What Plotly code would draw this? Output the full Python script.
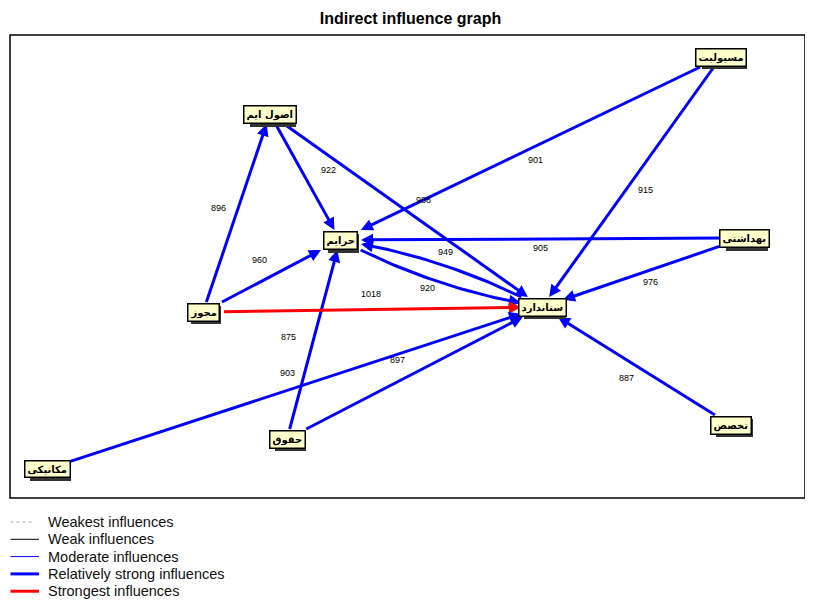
import numpy as np
import plotly.graph_objects as go

# nodes of the indirect influence map (position on the MICMAC plane)
node_names = ["اصول ایم", "حرایم", "مجوز", "ستاندارد", "مسیولیت", "بهداشتی", "تخصص", "حقوق", "مکانیکی"]
node_x = [270, 340, 203, 542, 721, 744, 731, 287, 47]
node_y = [114, 240, 312, 307, 57, 238, 425, 439, 469]

# edges: source -> target with indirect influence value
edge_src = ["مجوز", "اصول ایم", "اصول ایم", "مسیولیت", "مسیولیت", "بهداشتی", "بهداشتی",
            "ستاندارد", "حرایم", "مجوز", "مجوز", "حقوق", "مکانیکی", "حقوق", "تخصص"]
edge_dst = ["اصول ایم", "حرایم", "ستاندارد", "حرایم", "ستاندارد", "حرایم", "ستاندارد",
            "حرایم", "ستاندارد", "حرایم", "ستاندارد", "حرایم", "ستاندارد", "ستاندارد", "ستاندارد"]
edge_val = [896, 922, 988, 901, 915, 905, 976, 949, 920, 960, 1018, 875, 903, 897, 887]

legend_names = ["Weakest influences", "Weak influences", "Moderate influences",
                "Relatively strong influences", "Strongest influences"]

# style: where each value label sits relative to the edge midpoint (px)
lab_dx = [-18, 23, 17, 5, 14, -2, 7, 4, -14, -12, -2, -25, -7, -17, -10]
lab_dy = [-5, -7, -11, 11, 8, 9, 9, -22, 14, -16, -16, -3, -15, -13, 12]

styles = {
    "Weakest influences": dict(color="#aaaaaa", width=1, dash="dot"),
    "Weak influences": dict(color="black", width=1, dash="solid"),
    "Moderate influences": dict(color="#0000ff", width=1, dash="solid"),
    "Relatively strong influences": dict(color="#0000ff", width=3, dash="solid"),
    "Strongest influences": dict(color="#ff0000", width=3, dash="solid"),
}

pos = {n: (x, y) for n, x, y in zip(node_names, node_x, node_y)}
HW, HH = 21, 10
PLOT_W, PLOT_H = 795, 463


def box_exit(c, u):
    tx = HW / abs(u[0]) if abs(u[0]) > 1e-9 else 1e9
    ty = HH / abs(u[1]) if abs(u[1]) > 1e-9 else 1e9
    t = min(tx, ty)
    return np.array(c) + u * t


def unit(v):
    return v / np.hypot(*v)


pairs = set(zip(edge_src, edge_dst))
vmax = max(edge_val)

lines = {k: ([], []) for k in legend_names}
annotations = []
for i, (s, d, v) in enumerate(zip(edge_src, edge_dst, edge_val)):
    cls = "Strongest influences" if v == vmax else "Relatively strong influences"
    S, T = np.array(pos[s], float), np.array(pos[d], float)
    u = unit(T - S)
    n = np.array([-u[1], u[0]])
    bulge = 14 if (d, s) in pairs else 0
    C = (S + T) / 2 + bulge * n
    start = box_exit(S, unit(C - S))
    w = unit(C - T)
    tip = box_exit(T, w)
    end = tip + 5 * w
    tt = np.linspace(0, 1, 30)
    px = (1 - tt) ** 2 * start[0] + 2 * (1 - tt) * tt * C[0] + tt ** 2 * end[0]
    py = (1 - tt) ** 2 * start[1] + 2 * (1 - tt) * tt * C[1] + tt ** 2 * end[1]
    lines[cls][0].extend(list(px) + [None])
    lines[cls][1].extend(list(py) + [None])
    tail = tip + 10 * w
    annotations.append(dict(
        x=tip[0], y=tip[1], ax=tail[0], ay=tail[1], xref="x", yref="y", axref="x", ayref="y",
        text="", showarrow=True, arrowhead=2, arrowsize=0.8, arrowwidth=styles[cls]["width"],
        arrowcolor=styles[cls]["color"], standoff=0,
    ))
    mid = (S + T) / 2
    annotations.append(dict(
        x=mid[0], y=mid[1], xref="x", yref="y", text=str(v), showarrow=False,
        xshift=lab_dx[i], yshift=-lab_dy[i],
        font=dict(family="Liberation Sans, Arial", size=9, color="black"),
    ))

# node boxes with drop shadow
for n in node_names:
    x, y = pos[n]
    annotations.append(dict(
        x=x, y=y, xref="x", yref="y", text=n, showarrow=False, xshift=3, yshift=-3,
        font=dict(family="DejaVu Sans", size=10, color="#333333"), bgcolor="#333333",
        bordercolor="#333333", borderwidth=1.5, borderpad=2,
    ))
    annotations.append(dict(
        x=x, y=y, xref="x", yref="y", text="<b>" + n + "</b>", showarrow=False,
        font=dict(family="DejaVu Sans", size=10, color="black"), bgcolor="#ffffcc",
        bordercolor="black", borderwidth=1.5, borderpad=2,
    ))

annotations.append(dict(
    x=(809 - 10) / PLOT_W, y=(498 - 422) / PLOT_H, xref="paper", yref="paper",
    text="© LIPSOR-EPITA-MICMAC", textangle=90, xanchor="center", yanchor="middle",
    showarrow=False, font=dict(family="Liberation Sans, Arial", size=8, color="#333333"),
))

# legend drawn under the frame: sample line + text per class
shapes = [dict(type="rect", xref="paper", yref="paper", x0=0, y0=0, x1=1, y1=1,
               line=dict(color="black", width=1.5))]
for k, name in enumerate(legend_names):
    st = styles[name]
    yk = -(24 + 17.3 * k) / PLOT_H
    x1 = 23 if st["dash"] == "dot" else 29
    shapes.append(dict(type="line", xref="paper", yref="paper", x0=0.5 / PLOT_W, x1=x1 / PLOT_W,
                       y0=yk, y1=yk, line=dict(color=st["color"], width=st["width"], dash=st["dash"])))
    annotations.append(dict(
        x=36 / PLOT_W, y=yk, xref="paper", yref="paper", text=name, showarrow=False,
        xanchor="left", yanchor="middle",
        font=dict(family="Liberation Sans, Arial", size=14.5, color="#111111"),
    ))

fig = go.Figure()
for name in legend_names:
    st = styles[name]
    xs, ys = lines[name]
    if not xs:
        continue
    fig.add_trace(go.Scatter(
        x=xs, y=ys, mode="lines", name=name,
        line=dict(color=st["color"], width=st["width"], dash=st["dash"]),
        hoverinfo="skip", showlegend=False,
    ))

# the page body adds an 8px offset, so the figure is drawn 8px smaller
fig.update_layout(
    width=805, height=594, autosize=False,
    margin=dict(l=2, r=8, t=27, b=104, autoexpand=False),
    paper_bgcolor="white", plot_bgcolor="white",
    title=dict(text="<b>Indirect influence graph</b>", x=0.5, xanchor="center",
               y=1 - 10 / 594, yanchor="middle",
               font=dict(family="Liberation Sans Narrow, Arial Narrow, Liberation Sans", size=16, color="black")),
    xaxis=dict(range=[10, 805], visible=False, fixedrange=True),
    yaxis=dict(range=[498, 35], visible=False, fixedrange=True),
    showlegend=False,
    annotations=annotations,
    shapes=shapes,
)

fig.write_html("out.html")
